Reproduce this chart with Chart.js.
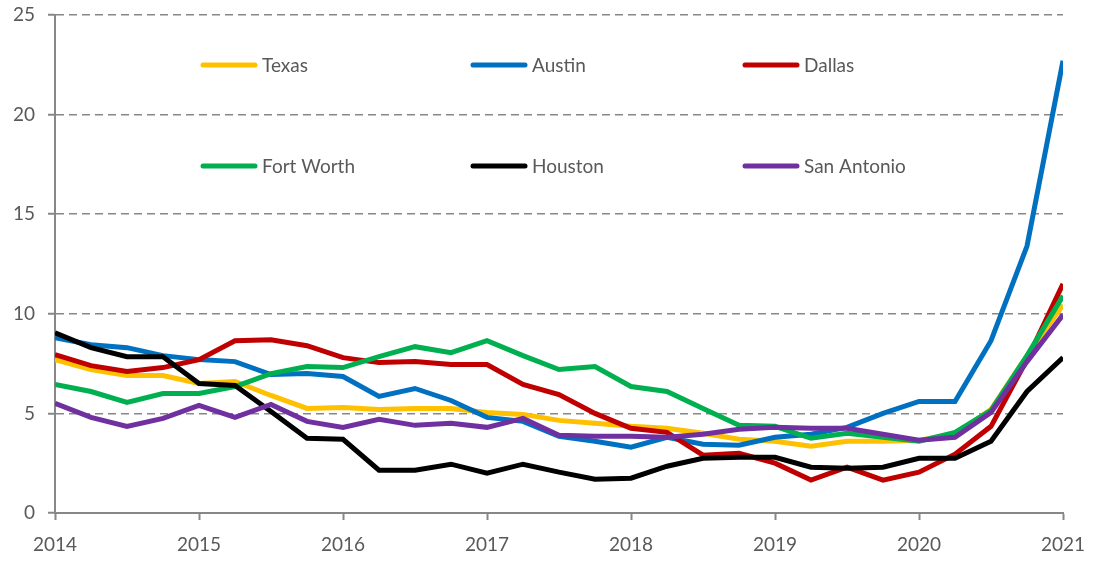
<!DOCTYPE html>
<html>
<head>
<meta charset="utf-8">
<script src="https://cdn.jsdelivr.net/npm/chart.js@4.4.1/dist/chart.umd.min.js"></script>
<style>
  html, body { margin: 0; padding: 0; background: #ffffff; }
  #wrap { width: 1094px; height: 561px; position: relative; }
</style>
</head>
<body>
<div id="wrap"><canvas id="chart"></canvas></div>
<script>
// quarterly observations, 2014 Q1 .. 2021 Q1
const quarters = [
  2014, 2014.25, 2014.5, 2014.75,
  2015, 2015.25, 2015.5, 2015.75,
  2016, 2016.25, 2016.5, 2016.75,
  2017, 2017.25, 2017.5, 2017.75,
  2018, 2018.25, 2018.5, 2018.75,
  2019, 2019.25, 2019.5, 2019.75,
  2020, 2020.25, 2020.5, 2020.75,
  2021
];
const yearTicks = [2014, 2015, 2016, 2017, 2018, 2019, 2020, 2021];
const valueTicks = [0, 5, 10, 15, 20, 25];

const texas      = [7.7, 7.2, 6.9, 6.9, 6.5, 6.6, 5.9, 5.25, 5.3, 5.2, 5.25, 5.25, 5.05, 4.95, 4.65, 4.5, 4.35, 4.25, 4.0, 3.7, 3.6, 3.35, 3.6, 3.6, 3.65, 3.95, 5.2, 7.9, 10.45];
const austin     = [8.8, 8.45, 8.3, 7.9, 7.7, 7.6, 6.95, 7.0, 6.85, 5.85, 6.25, 5.65, 4.8, 4.6, 3.85, 3.6, 3.3, 3.8, 3.45, 3.4, 3.8, 3.95, 4.3, 5.0, 5.6, 5.6, 8.65, 13.4, 22.7];
const dallas     = [7.95, 7.4, 7.1, 7.3, 7.7, 8.65, 8.7, 8.4, 7.8, 7.55, 7.6, 7.45, 7.45, 6.45, 5.95, 5.0, 4.25, 4.05, 2.9, 3.0, 2.5, 1.65, 2.3, 1.65, 2.05, 2.95, 4.35, 7.7, 11.5];
const fortWorth  = [6.45, 6.1, 5.55, 6.0, 6.0, 6.35, 7.0, 7.35, 7.3, 7.85, 8.35, 8.05, 8.65, 7.9, 7.2, 7.35, 6.35, 6.1, 5.25, 4.4, 4.35, 3.75, 4.0, 3.8, 3.6, 4.05, 5.15, 7.9, 10.9];
const houston    = [9.05, 8.3, 7.85, 7.85, 6.5, 6.4, 5.1, 3.75, 3.7, 2.15, 2.15, 2.45, 2.0, 2.45, 2.05, 1.7, 1.75, 2.35, 2.75, 2.8, 2.8, 2.3, 2.25, 2.3, 2.75, 2.75, 3.6, 6.1, 7.8];
const sanAntonio = [5.5, 4.8, 4.35, 4.75, 5.4, 4.8, 5.45, 4.6, 4.3, 4.7, 4.4, 4.5, 4.3, 4.75, 3.9, 3.85, 3.85, 3.8, 3.95, 4.2, 4.3, 4.25, 4.25, 3.95, 3.65, 3.8, 5.05, 7.6, 9.95];

const seriesNames = ['Texas', 'Austin', 'Dallas', 'Fort Worth', 'Houston', 'San Antonio'];
const seriesData = [texas, austin, dallas, fortWorth, houston, sanAntonio];
const seriesColors = ['#FFC000', '#0070C0', '#C00000', '#00B050', '#000000', '#7030A0'];

const FONT = 'Lato, "Open Sans", sans-serif';
const AXIS_GREY = '#878787';
const TEXT_GREY = '#595959';

// two rows of three entries drawn inside the plot area
const insideLegend = {
  id: 'insideLegend',
  afterDraw(chart) {
    const ctx = chart.ctx;
    const colX = [203, 473, 745];
    const rowY = [65, 166];
    ctx.save();
    ctx.font = '19px ' + FONT;
    ctx.textBaseline = 'middle';
    ctx.textAlign = 'left';
    chart.data.datasets.forEach((ds, i) => {
      const x = colX[i % 3];
      const y = rowY[Math.floor(i / 3)];
      ctx.strokeStyle = ds.borderColor;
      ctx.lineWidth = 5;
      ctx.lineCap = 'round';
      ctx.beginPath();
      ctx.moveTo(x, y);
      ctx.lineTo(x + 52, y);
      ctx.stroke();
      ctx.fillStyle = TEXT_GREY;
      ctx.fillText(ds.label, x + 59, y + 1);
    });
    ctx.restore();
  }
};

const datasets = seriesNames.map((name, i) => ({
  label: name,
  data: quarters.map((q, j) => ({ x: q, y: seriesData[i][j] })),
  borderColor: seriesColors[i],
  backgroundColor: seriesColors[i],
  borderWidth: 5,
  pointRadius: 0,
  tension: 0,
  borderJoinStyle: 'miter',
  order: seriesNames.length - i
}));

new Chart(document.getElementById('chart'), {
  type: 'line',
  data: { datasets: datasets },
  options: {
    responsive: true,
    maintainAspectRatio: false,
    animation: false,
    layout: { padding: { top: 15, right: 31, left: 0, bottom: 0 } },
    plugins: {
      legend: { display: false },
      tooltip: { enabled: false }
    },
    scales: {
      x: {
        type: 'linear',
        min: 2014,
        max: 2021,
        afterBuildTicks: s => { s.ticks = yearTicks.map(v => ({ value: v })); },
        afterFit: s => {
          s.height = 48;
          s.paddingLeft = 0;
          s.paddingRight = 0;
        },
        ticks: {
          color: TEXT_GREY,
          font: { family: FONT, size: 19 },
          padding: 13,
          maxRotation: 0,
          callback: v => String(v)
        },
        grid: {
          drawOnChartArea: false,
          drawTicks: true,
          tickLength: 7,
          tickColor: AXIS_GREY,
          tickWidth: 2
        },
        border: { display: true, color: AXIS_GREY, width: 2 }
      },
      y: {
        min: 0,
        max: 25,
        afterBuildTicks: s => { s.ticks = valueTicks.map(v => ({ value: v })); },
        afterFit: s => {
          s.width = 55;
          s.paddingTop = 0;
          s.paddingBottom = 0;
        },
        ticks: {
          color: TEXT_GREY,
          font: { family: FONT, size: 19 },
          padding: 13
        },
        grid: {
          color: AXIS_GREY,
          lineWidth: 1.5,
          drawTicks: true,
          tickLength: 7,
          tickColor: AXIS_GREY,
          tickWidth: 2,
          tickBorderDash: []
        },
        border: { display: true, color: AXIS_GREY, width: 2, dash: [8, 5] }
      }
    }
  },
  plugins: [insideLegend]
});
</script>
</body>
</html>
